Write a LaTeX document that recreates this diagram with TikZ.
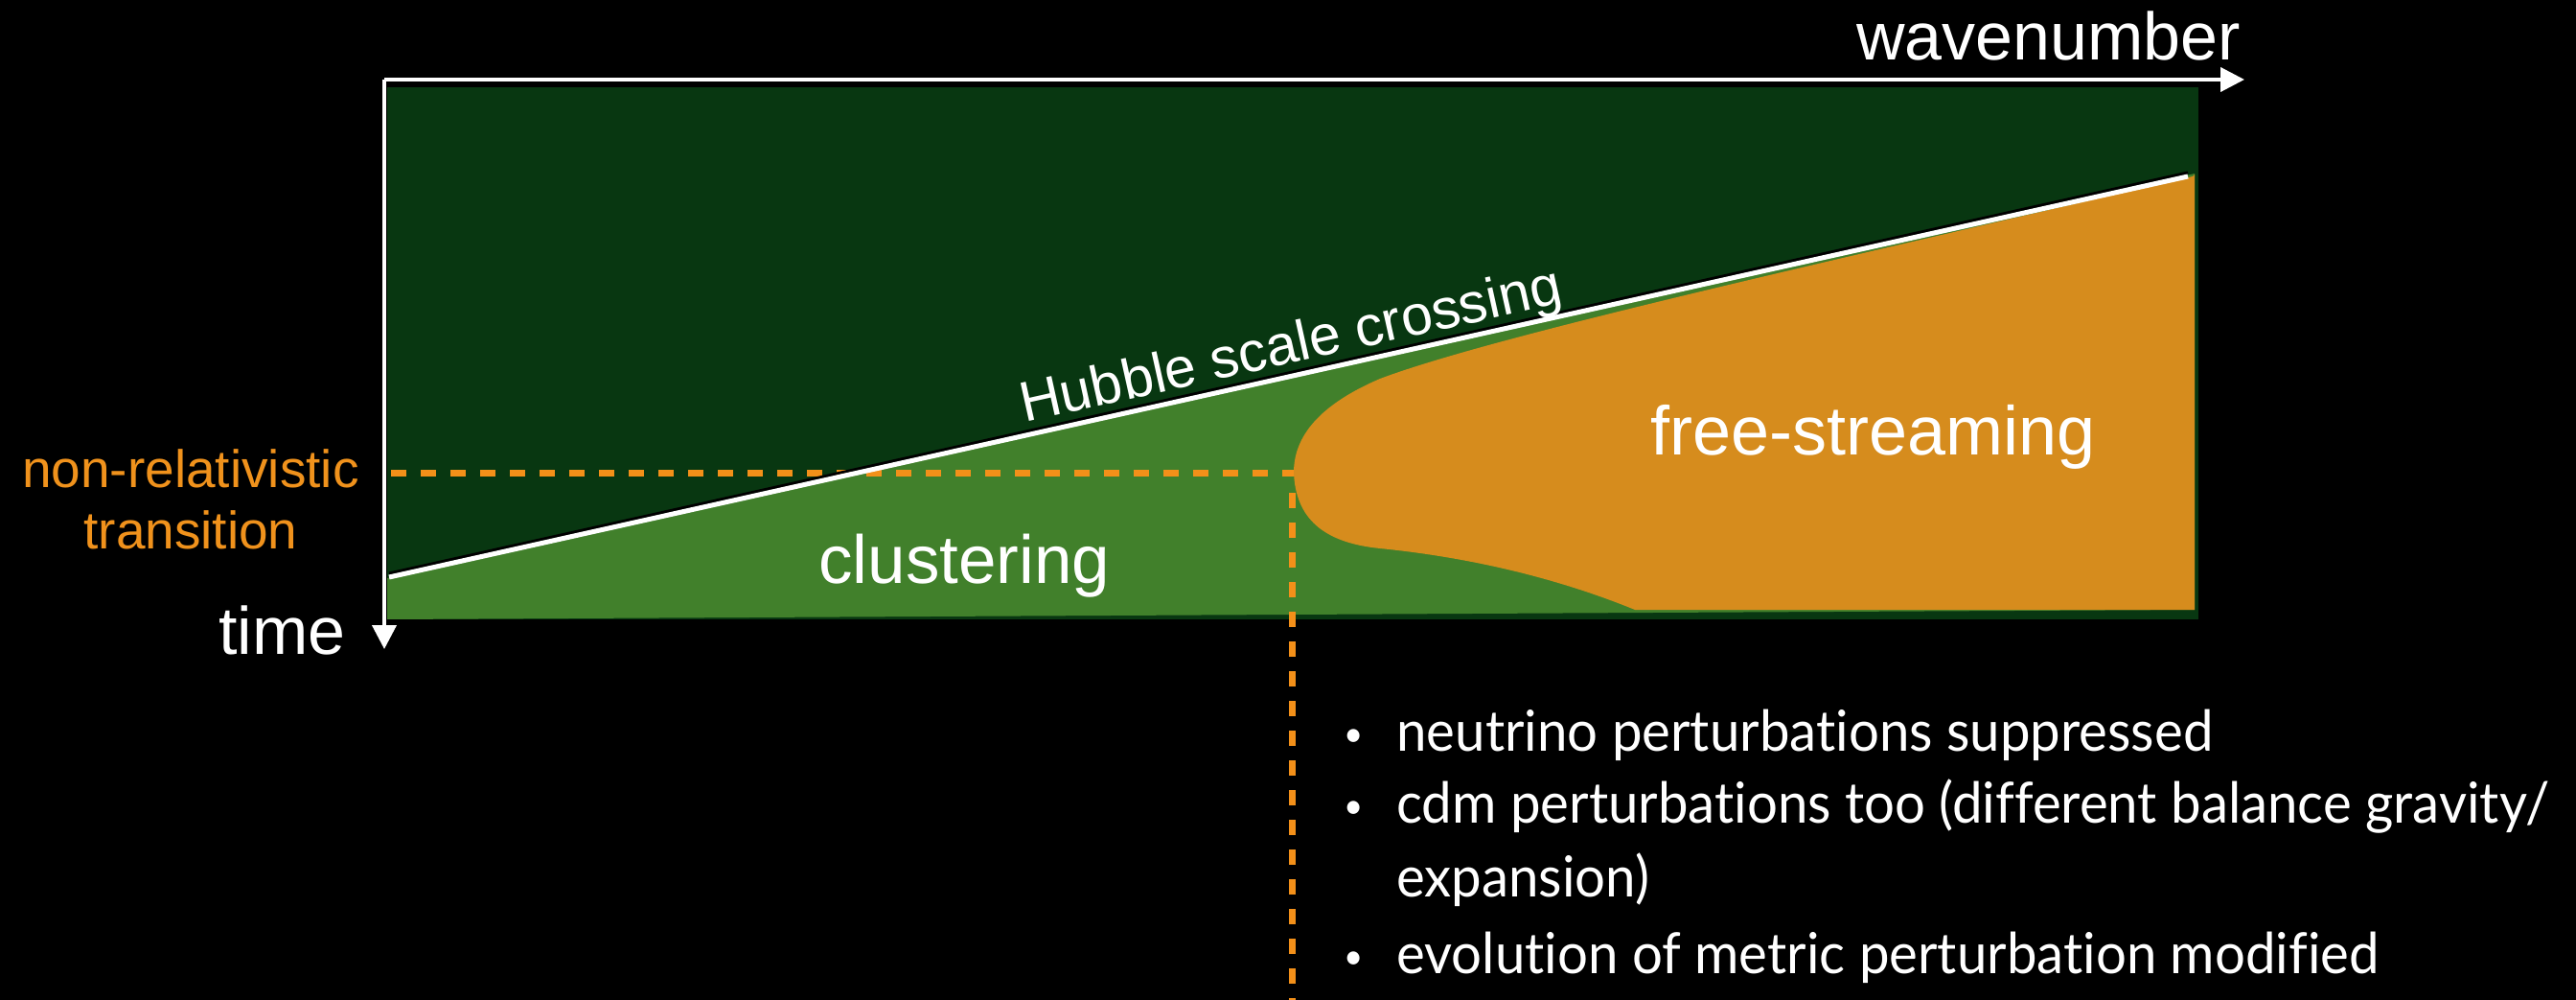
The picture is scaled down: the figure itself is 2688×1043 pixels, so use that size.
\documentclass[tikz,border=0pt]{standalone}
\usepackage{fontspec}
\setmainfont{Liberation Sans}
\newfontfamily\bulfont[FakeStretch=0.955,Ligatures=NoCommon]{Lato}
\usetikzlibrary{arrows.meta}
\definecolor{darkgr}{RGB}{8,55,17}
\definecolor{lightgr}{RGB}{65,128,43}
\definecolor{orfill}{RGB}{214,140,29}
\definecolor{ordash}{RGB}{243,144,25}
\definecolor{ortext}{RGB}{240,146,28}
\newcommand{\smallbul}{\raisebox{2.2pt}{\scalebox{0.62}{\textbullet}}}
\tikzset{
  lbl/.style={inner sep=0pt, text=white},
  axisline/.style={white, line width=2pt, -{Triangle[length=12.5pt,width=12.5pt]}},
  nrdash/.style={ordash, line width=3.5pt, dash pattern=on 8pt off 7.5pt},
  bul/.style={inner sep=0pt, text=white, anchor=base west, font=\bulfont\fontsize{29.5pt}{36pt}\selectfont},
}
\begin{document}
\begin{tikzpicture}[x=0.5pt,y=-0.5pt]
\fill[black] (0,0) rectangle (2688,1043);
\useasboundingbox (0,0) rectangle (2688,1043);
% regions
\fill[darkgr] (404,91) rectangle (2294,646);
\fill[lightgr] (404,603) -- (2290,181) -- (2290,636) -- (404,646) -- cycle;
\fill[orfill] (2290,182) -- (2288,184)
  .. controls (1900,275) and (1560,350) .. (1440,395)
  .. controls (1370,425) and (1350,460) .. (1350,493)
  .. controls (1352,540) and (1380,566) .. (1440,572)
  .. controls (1540,582) and (1630,605) .. (1706,636)
  -- (2290,636) -- cycle;
% coordinates
\coordinate (origin) at (401,83);
\coordinate (xend) at (2342,83);
\coordinate (yend) at (401,677);
\coordinate (nrstart) at (408,493);
\coordinate (nose) at (1350,493);
\coordinate (vtop) at (1348,500);
\coordinate (vbot) at (1348,1043);
\coordinate (hubA) at (406,602);
\coordinate (hubB) at (2283,184);
% dashed transition lines
\draw[nrdash] (nrstart) -- (nose);
\draw[nrdash, dash phase=-7pt] (vtop) -- (vbot);
% Hubble line
\draw[black, line width=1.5pt] ([yshift=2pt]hubA) -- ([yshift=2pt]hubB);
\draw[white, line width=2.5pt] (hubA) -- (hubB);
% axes
\draw[axisline] (origin) -- (xend);
\draw[axisline] (origin) -- (yend);
% labels
\node[lbl, anchor=base west, font=\fontsize{35pt}{42pt}\selectfont] (wn) at (1937,63) {wavenumber};
\node[lbl, anchor=base west, font=\fontsize{35pt}{42pt}\selectfont] (time) at (228,682) {time};
\node[lbl, anchor=base, text=ortext, font=\fontsize{27.5pt}{32pt}\selectfont] (nr1) at (199,508) {non-relativistic};
\node[lbl, anchor=base, text=ortext, font=\fontsize{27.5pt}{32pt}\selectfont] (nr2) at (199,572) {transition};
\node[lbl, anchor=base west, font=\fontsize{35.5pt}{42pt}\selectfont] (clus) at (854,608) {clustering};
\node[lbl, anchor=base west, font=\fontsize{36pt}{42pt}\selectfont] (fs) at (1722,474) {free-streaming};
\node[lbl, anchor=base west, rotate=12.55, font=\fontsize{29.5pt}{36pt}\selectfont] (hub) at (1069,441) {Hubble scale crossing};
% bullets
\node[bul] (b1) at (1402,783) {\smallbul};
\node[bul] (t1) at (1457,783) {neutrino perturbations suppressed};
\node[bul] (b2) at (1402,858) {\smallbul};
\node[bul] (t2) at (1457,858) {cdm perturbations too (different balance gravity/};
\node[bul] (t3) at (1457,935) {expansion)};
\node[bul] (b4) at (1402,1015) {\smallbul};
\node[bul] (t4) at (1457,1015) {evolution of metric perturbation modified};
\end{tikzpicture}
\end{document}
